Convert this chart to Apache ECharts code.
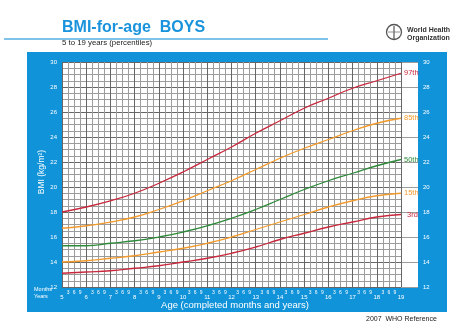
<!DOCTYPE html>
<html>
<head>
<meta charset="utf-8">
<script src="https://cdn.jsdelivr.net/npm/echarts@6/dist/echarts.min.js"></script>
<style>
  html, body { margin: 0; padding: 0; background: #fff; }
  #chart { width: 474px; height: 334px; }
</style>
</head>
<body>
<div id="chart"></div>
<script>
// Age in completed years
const ages = [5, 6, 7, 8, 9, 10, 11, 12, 13, 14, 15, 16, 17, 18, 19];
// BMI (kg/m²) percentiles, boys
const p97 = [18.0, 18.4, 18.9, 19.5, 20.3, 21.2, 22.2, 23.2, 24.3, 25.3, 26.3, 27.1, 27.9, 28.5, 29.1];
const p85 = [16.7, 16.9, 17.2, 17.6, 18.2, 18.9, 19.7, 20.5, 21.4, 22.3, 23.1, 23.8, 24.5, 25.1, 25.5];
const p50 = [15.3, 15.3, 15.5, 15.7, 16.0, 16.4, 16.9, 17.5, 18.2, 19.0, 19.8, 20.5, 21.1, 21.7, 22.2];
const p15 = [14.0, 14.1, 14.3, 14.5, 14.8, 15.1, 15.5, 16.0, 16.6, 17.2, 17.8, 18.4, 18.9, 19.3, 19.5];
const p3  = [13.1, 13.2, 13.3, 13.5, 13.7, 14.0, 14.3, 14.7, 15.2, 15.8, 16.3, 16.8, 17.2, 17.6, 17.8];
const percentileNames = ['97th', '85th', '50th', '15th', '3rd'];
const monthLabels = { 0.25: '3', 0.5: '6', 0.75: '9' };

const BLUE = '#1193da';
const RED = '#c8283c';
const ORANGE = '#f39a2c';
const GREEN = '#2e8a3a';
const FONT = 'Liberation Sans, Arial, sans-serif';

const chart = echarts.init(document.getElementById('chart'));

function curve(name, values, color) {
  return {
    type: 'line',
    name: name,
    xAxisIndex: 0,
    yAxisIndex: 0,
    data: ages.map((a, i) => [a, values[i]]),
    smooth: true,
    symbol: 'none',
    lineStyle: { color: color, width: 1.3 },
    z: 5,
    endLabel: {
      show: true,
      formatter: name,
      color: color,
      fontSize: 7.5,
      fontFamily: FONT,
      distance: name === '3rd' ? 6 : 3
    }
  };
}

const minorLine = { show: true, lineStyle: { color: '#9c9c9c', width: 1 } };
const majorLine = { show: true, lineStyle: { color: '#666666', width: 1 } };

chart.setOption({
  animation: false,
  textStyle: { fontFamily: FONT },
  graphic: [
    // blue frame around the plotting area
    { type: 'rect', shape: { x: 27, y: 52, width: 420, height: 260 }, style: { fill: BLUE }, z: -10, silent: true },
    { type: 'rect', shape: { x: 62, y: 62, width: 356, height: 225 }, style: { fill: '#fff' }, z: -9, silent: true },
    // header rule
    { type: 'line', shape: { x1: 4, y1: 39, x2: 328, y2: 39 }, style: { stroke: '#55aee3', lineWidth: 1.5 }, z: 1 },
    { type: 'text', left: 62, top: 20, style: { text: 'BMI-for-age  BOYS', fill: '#1893dc', font: 'bold 16px ' + FONT }, z: 2 },
    { type: 'text', left: 62, top: 39, style: { text: '5 to 19 years (percentiles)', fill: '#222', font: '7.8px ' + FONT }, z: 2 },
    // WHO emblem and name
    { type: 'circle', shape: { cx: 394, cy: 32, r: 7.5 }, style: { fill: '#fff', stroke: '#555', lineWidth: 1.3 }, z: 2 },
    { type: 'line', shape: { x1: 394, y1: 26, x2: 394, y2: 39 }, style: { stroke: '#555', lineWidth: 1.2 }, z: 2 },
    { type: 'line', shape: { x1: 388, y1: 32, x2: 400, y2: 32 }, style: { stroke: '#777', lineWidth: 0.8 }, z: 2 },
    { type: 'text', left: 407, top: 26, style: { text: 'World Health\nOrganization', fill: '#333', font: 'bold 7px ' + FONT, lineHeight: 8 }, z: 2 },
    // axis captions
    { type: 'text', left: 34, top: 286, style: { text: 'Months', fill: '#fff', font: '5.5px ' + FONT }, z: 2 },
    { type: 'text', left: 34, top: 293, style: { text: 'Years', fill: '#fff', font: '5.5px ' + FONT }, z: 2 },
    { type: 'text', x: 235, y: 305, style: { text: 'Age (completed months and years)', fill: '#fff', font: '9.5px ' + FONT, align: 'center', verticalAlign: 'middle' }, z: 2 },
    { type: 'text', x: 42, y: 172, rotation: Math.PI / 2, style: { text: 'BMI (kg/m²)', fill: '#fff', font: '8.5px ' + FONT, align: 'center', verticalAlign: 'middle' }, z: 2 },
    { type: 'text', left: 366, top: 316, style: { text: '2007  WHO Reference', fill: '#222', font: '7px ' + FONT }, z: 2 }
  ],
  grid: [
    { left: 62, top: 62, width: 339, height: 225 },
    { left: 401, top: 62, width: 17, height: 225 }
  ],
  xAxis: [
    { // quarter-year grid and month labels
      type: 'value', gridIndex: 0, min: 5, max: 19, interval: 0.25,
      axisLine: { show: false }, axisTick: { show: false },
      splitLine: minorLine,
      axisLabel: {
        color: '#fff', fontSize: 5, margin: 3,
        formatter: v => monthLabels[Math.round((v - Math.floor(v)) * 100) / 100] || ''
      }
    },
    { // year grid and year labels
      type: 'value', gridIndex: 0, min: 5, max: 19, interval: 1, position: 'bottom',
      axisLine: { show: false }, axisTick: { show: false },
      splitLine: majorLine,
      axisLabel: { color: '#fff', fontSize: 6, margin: 7, formatter: v => String(v) }
    },
    { type: 'value', gridIndex: 1, min: 0, max: 1, show: false }
  ],
  yAxis: [
    { // half-unit grid, labels on even values
      type: 'value', gridIndex: 0, min: 12, max: 30, interval: 0.5,
      axisLine: { show: false }, axisTick: { show: false },
      splitLine: minorLine,
      axisLabel: { color: '#fff', fontSize: 6, margin: 5, formatter: v => (v % 2 === 0 ? String(v) : '') }
    },
    {
      type: 'value', gridIndex: 0, min: 12, max: 30, interval: 2, position: 'right',
      axisLine: { show: false }, axisTick: { show: false }, axisLabel: { show: false },
      splitLine: majorLine
    },
    { // extension strip on the right with its own labels
      type: 'value', gridIndex: 1, min: 12, max: 30, interval: 2, position: 'right',
      axisLine: { show: false }, axisTick: { show: false },
      splitLine: { show: true, lineStyle: { color: '#9c9c9c', width: 1 } },
      axisLabel: { color: '#fff', fontSize: 6, margin: 5, formatter: v => String(v) }
    }
  ],
  series: [
    curve(percentileNames[0], p97, RED),
    curve(percentileNames[1], p85, ORANGE),
    curve(percentileNames[2], p50, GREEN),
    curve(percentileNames[3], p15, ORANGE),
    curve(percentileNames[4], p3, RED)
  ]
});
</script>
</body>
</html>
